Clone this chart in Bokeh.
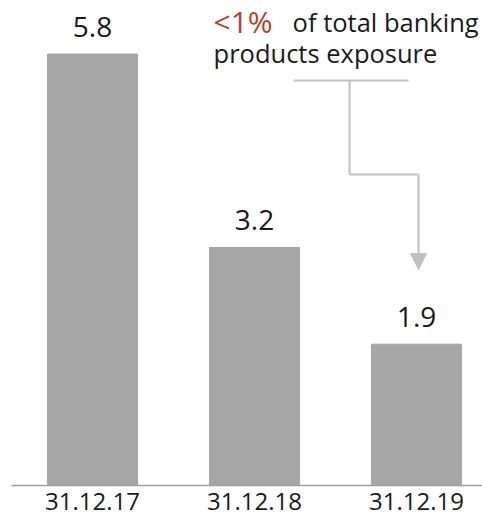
from bokeh.plotting import figure
from bokeh.models import ColumnDataSource, Label, Arrow, NormalHead, FixedTicker
from bokeh.core.properties import value
from bokeh.embed import file_html
from bokeh.resources import INLINE

# Exposure by reporting date
dates = ["31.12.17", "31.12.18", "31.12.19"]
exposure = [5.8, 3.2, 1.9]
labels = ["5.8", "3.2", "1.9"]

FONT = "Open Sans"
BAR = "#a6a6a6"
TEXT = "#1a1a1a"
RED = "#b5412f"
LINE = "#c0c0c0"

xs = list(range(len(dates)))
src = ColumnDataSource(dict(x=xs, top=exposure, label=labels))

p = figure(width=482, height=520, output_backend="svg", toolbar_location=None,
           x_range=(-0.5, 2.407), y_range=(0, 6.52),
           min_border_left=11, min_border_right=0, min_border_top=0,
           min_border_bottom=35)

p.vbar(x="x", top="top", width=0.556, source=src, color=BAR)
p.text(x="x", y="top", text="label", source=src, y_offset=-27,
       text_align="center", text_baseline="alphabetic",
       text_font=value(FONT), text_font_size="28px", text_color=TEXT)

# Axes
p.yaxis.visible = False
p.xgrid.visible = False
p.ygrid.visible = False
p.outline_line_color = None
p.xaxis.ticker = FixedTicker(ticks=xs)
p.xaxis.major_label_overrides = {i: d for i, d in zip(xs, dates)}
p.xaxis.major_tick_line_color = None
p.xaxis.minor_tick_line_color = None
p.xaxis.axis_line_color = "#a0a0a0"
p.xaxis.axis_line_width = 1.5
p.xaxis.major_label_text_font = FONT
p.xaxis.major_label_text_font_size = "24px"
p.xaxis.major_label_text_color = TEXT
p.xaxis.major_label_standoff = 1

# Callout text
p.add_layout(Label(x=0.747, y=6.235, text="<1%", text_font=FONT,
                   text_font_size="30px", text_color=RED,
                   text_baseline="alphabetic"))
p.add_layout(Label(x=1.235, y=6.235, text="of total banking", text_font=FONT,
                   text_font_size="25.5px", text_color=TEXT,
                   text_baseline="alphabetic"))
p.add_layout(Label(x=0.747, y=5.81, text="products exposure", text_font=FONT,
                   text_font_size="25.5px", text_color=TEXT,
                   text_baseline="alphabetic"))

# Bracket leading down to the latest bar
p.segment(x0=[1.2407, 1.5864, 1.5864], y0=[5.444, 5.444, 4.18],
          x1=[1.9506, 1.5864, 2.0123], y1=[5.444, 4.18, 4.18],
          line_color=LINE, line_width=2)
p.add_layout(Arrow(x_start=2.0123, y_start=4.18, x_end=2.0123, y_end=2.903,
                   line_color=LINE, line_width=2,
                   end=NormalHead(size=16, fill_color=LINE, line_color=LINE)))

open("out.html", "w").write(file_html(p, INLINE))
